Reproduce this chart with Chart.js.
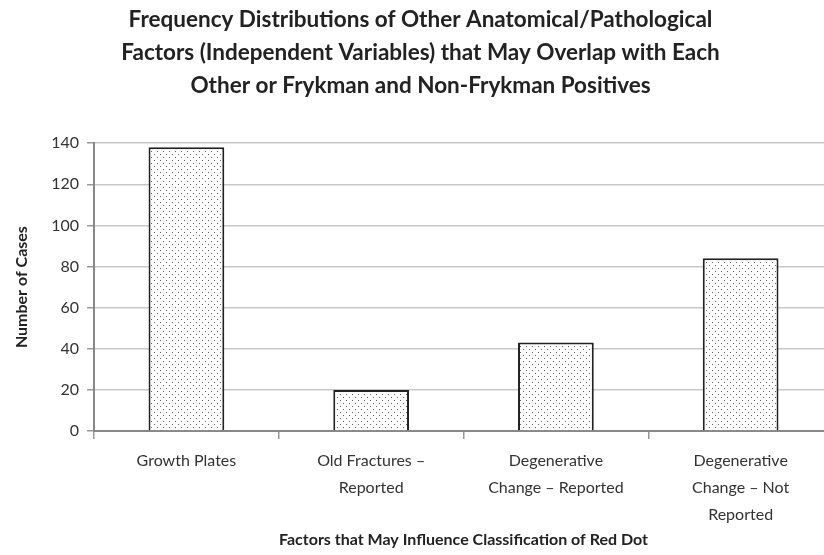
<!DOCTYPE html>
<html>
<head>
<meta charset="utf-8">
<script src="https://cdn.jsdelivr.net/npm/chart.js@4"></script>
<style>
  html, body { margin: 0; padding: 0; background: #fff; overflow: hidden; }
</style>
</head>
<body>
<canvas id="myChart" width="840" height="555"></canvas>
<script>
(() => {
  'use strict'

  const categories = [
    'Growth Plates',
    ['Old Fractures \u2013', 'Reported'],
    ['Degenerative', 'Change \u2013 Reported'],
    ['Degenerative', 'Change \u2013 Not', 'Reported']
  ]
  const cases = [138, 20, 43, 84]
  const titleLines = [
    'Frequency Distributions of Other Anatomical/Pathological',
    'Factors (Independent Variables) that May Overlap with Each',
    'Other or Frykman and Non-Frykman Positives'
  ]

  // dotted fill
  const pc = document.createElement('canvas')
  pc.width = 6
  pc.height = 6
  const p = pc.getContext('2d')
  p.fillStyle = '#fff'
  p.fillRect(0, 0, 6, 6)
  p.fillStyle = '#666'
  p.fillRect(1, 1, 1, 1)
  p.fillRect(4, 4, 1, 1)
  const dots = p.createPattern(pc, 'repeat')

  const font = 'Lato, "Open Sans", sans-serif'
  const ctx = document.getElementById('myChart')
  // eslint-disable-next-line no-unused-vars
  const myChart = new Chart(ctx, {
    type: 'bar',
    data: {
      labels: categories,
      datasets: [{
        data: cases,
        backgroundColor: dots,
        borderColor: '#222',
        borderWidth: 2,
        borderSkipped: 'bottom',
        categoryPercentage: 1,
        barPercentage: 0.41
      }]
    },
    options: {
      responsive: false,
      animation: false,
      layout: { padding: { left: 8, right: 7, top: 3, bottom: 11 } },
      plugins: {
        legend: { display: false },
        tooltip: { enabled: false },
        title: {
          display: true,
          text: titleLines,
          color: '#222',
          font: { family: font, size: 22.5, weight: 'bold', lineHeight: 1.47 },
          padding: { top: 0, bottom: 41 }
        }
      },
      scales: {
        x: {
          grid: {
            offset: true,
            drawOnChartArea: false,
            color: '#999',
            tickLength: 8,
            lineWidth: 1.5
          },
          border: { color: '#888', width: 2 },
          ticks: {
            color: '#333',
            font: { family: font, size: 16, lineHeight: 1.6875 },
            padding: 8,
            maxRotation: 0
          },
          title: {
            display: true,
            text: 'Factors that May Influence Classification of Red Dot',
            color: '#222',
            font: { family: font, size: 16, weight: 'bold', lineHeight: 0.5 },
            padding: { top: 0, bottom: 0 }
          }
        },
        y: {
          min: 0,
          max: 140,
          ticks: {
            stepSize: 20,
            color: '#333',
            font: { family: font, size: 16 },
            padding: 8
          },
          grid: {
            color: '#c8c8c8',
            lineWidth: 1.5,
            tickLength: 7,
            tickColor: '#999'
          },
          border: { color: '#888', width: 2 },
          title: {
            display: true,
            text: 'Number of Cases',
            color: '#222',
            font: { family: font, size: 16, weight: 'bold' },
            padding: { bottom: 12 }
          }
        }
      }
    }
  })
})()
</script>
</body>
</html>
